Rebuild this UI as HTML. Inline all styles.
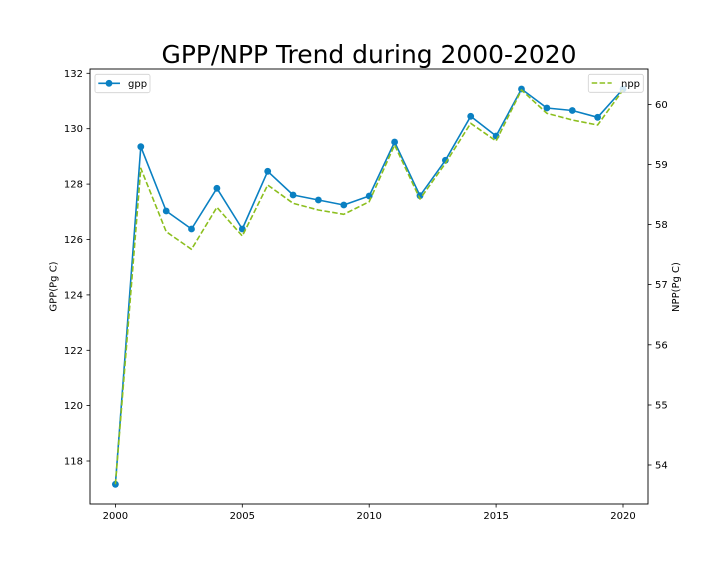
<!DOCTYPE html>
<html><head><meta charset="utf-8"><style>
html,body{margin:0;padding:0;background:#fff;}
svg{display:block;}
text{font-family:"DejaVu Sans","Liberation Sans",sans-serif;fill:#000;}
</style></head><body>
<svg width="720" height="576" viewBox="0 0 720 576" xmlns="http://www.w3.org/2000/svg">
<rect x="0" y="0" width="720" height="576" fill="#fff"/>
<!-- title -->
<text x="369" y="63" font-size="24.95" text-anchor="middle">GPP/NPP Trend during 2000-2020</text>

<!-- gpp series -->
<polyline fill="none" stroke="#0a80c2" stroke-width="1.6" stroke-linejoin="round"
points="115.4,484.3 140.8,146.7 166.2,211 191.5,229 216.9,188.3 242.3,229 267.7,171.3 293.1,195 318.4,200 343.8,205 369.2,196 394.6,142 420,195.7 445.4,160.3 470.7,116.3 496.1,136 521.5,89 546.9,108 572.3,110.5 597.6,117.3 623,89"/>
<g fill="#0a80c2">
<circle cx="115.4" cy="484.3" r="3.4"/><circle cx="140.8" cy="146.7" r="3.4"/><circle cx="166.2" cy="211" r="3.4"/><circle cx="191.5" cy="229" r="3.4"/><circle cx="216.9" cy="188.3" r="3.4"/><circle cx="242.3" cy="229" r="3.4"/><circle cx="267.7" cy="171.3" r="3.4"/><circle cx="293.1" cy="195" r="3.4"/><circle cx="318.4" cy="200" r="3.4"/><circle cx="343.8" cy="205" r="3.4"/><circle cx="369.2" cy="196" r="3.4"/><circle cx="394.6" cy="142" r="3.4"/><circle cx="420" cy="195.7" r="3.4"/><circle cx="445.4" cy="160.3" r="3.4"/><circle cx="470.7" cy="116.3" r="3.4"/><circle cx="496.1" cy="136" r="3.4"/><circle cx="521.5" cy="89" r="3.4"/><circle cx="546.9" cy="108" r="3.4"/><circle cx="572.3" cy="110.5" r="3.4"/><circle cx="597.6" cy="117.3" r="3.4"/><circle cx="623" cy="89" r="3.4"/>
</g>

<!-- gpp legend -->
<rect x="95" y="74.3" width="55" height="18.4" rx="2" fill="#fff" fill-opacity="0.8" stroke="#d0d0d0" stroke-width="0.8"/>
<line x1="98.3" y1="83.3" x2="120" y2="83.3" stroke="#0a80c2" stroke-width="1.6"/>
<circle cx="109" cy="83.3" r="3.4" fill="#0a80c2"/>
<text x="128" y="87" font-size="10">gpp</text>

<!-- npp series -->
<polyline fill="none" stroke="#8cbf1e" stroke-width="1.6" stroke-dasharray="5.5,2.4" stroke-linejoin="round"
points="115.4,484.3 140.8,168.3 166.2,231.7 191.5,249.3 216.9,207.3 242.3,236 267.7,185 293.1,203.3 318.4,210 343.8,214.3 369.2,201.7 394.6,145 420,199 445.4,163.3 470.7,123.3 496.1,141 521.5,90 546.9,113.3 572.3,120 597.6,125 623,90"/>

<!-- npp legend -->
<rect x="588.3" y="74.3" width="55" height="18" rx="2" fill="#fff" fill-opacity="0.8" stroke="#d0d0d0" stroke-width="0.8"/>
<line x1="591.7" y1="83" x2="611.7" y2="83" stroke="#8cbf1e" stroke-width="1.6" stroke-dasharray="5.5,2.4"/>
<text x="621" y="87" font-size="10">npp</text>

<!-- spines -->
<rect x="90" y="69" width="558" height="435" fill="none" stroke="#000" stroke-width="0.9"/>

<!-- left ticks -->
<g stroke="#000" stroke-width="0.8">
<line x1="86.5" y1="73.3" x2="90" y2="73.3"/><line x1="86.5" y1="128.7" x2="90" y2="128.7"/><line x1="86.5" y1="184.1" x2="90" y2="184.1"/><line x1="86.5" y1="239.5" x2="90" y2="239.5"/><line x1="86.5" y1="294.9" x2="90" y2="294.9"/><line x1="86.5" y1="350.3" x2="90" y2="350.3"/><line x1="86.5" y1="405.6" x2="90" y2="405.6"/><line x1="86.5" y1="461" x2="90" y2="461"/>
</g>
<g font-size="10" text-anchor="end">
<text x="83" y="76.8">132</text><text x="83" y="132.2">130</text><text x="83" y="187.6">128</text><text x="83" y="243">126</text><text x="83" y="298.4">124</text><text x="83" y="353.8">122</text><text x="83" y="409.1">120</text><text x="83" y="464.5">118</text>
</g>

<!-- right ticks -->
<g stroke="#000" stroke-width="0.8">
<line x1="648" y1="104.6" x2="651.5" y2="104.6"/><line x1="648" y1="164.6" x2="651.5" y2="164.6"/><line x1="648" y1="224.6" x2="651.5" y2="224.6"/><line x1="648" y1="284.6" x2="651.5" y2="284.6"/><line x1="648" y1="344.8" x2="651.5" y2="344.8"/><line x1="648" y1="405" x2="651.5" y2="405"/><line x1="648" y1="465" x2="651.5" y2="465"/>
</g>
<g font-size="10">
<text x="655" y="108.1">60</text><text x="655" y="168.1">59</text><text x="655" y="228.1">58</text><text x="655" y="288.1">57</text><text x="655" y="348.3">56</text><text x="655" y="408.5">55</text><text x="655" y="468.5">54</text>
</g>

<!-- x ticks -->
<g stroke="#000" stroke-width="0.8">
<line x1="115.4" y1="504" x2="115.4" y2="507.5"/><line x1="242.3" y1="504" x2="242.3" y2="507.5"/><line x1="369.2" y1="504" x2="369.2" y2="507.5"/><line x1="496.1" y1="504" x2="496.1" y2="507.5"/><line x1="623" y1="504" x2="623" y2="507.5"/>
</g>
<g font-size="10" text-anchor="middle">
<text x="115.4" y="519">2000</text><text x="242.3" y="519">2005</text><text x="369.2" y="519">2010</text><text x="496.1" y="519">2015</text><text x="623" y="519">2020</text>
</g>

<!-- axis labels -->
<text transform="translate(56.5,286.5) rotate(-90)" font-size="10" text-anchor="middle">GPP(Pg C)</text>
<text transform="translate(679,287) rotate(-90)" font-size="10" text-anchor="middle">NPP(Pg C)</text>
</svg>
</body></html>
